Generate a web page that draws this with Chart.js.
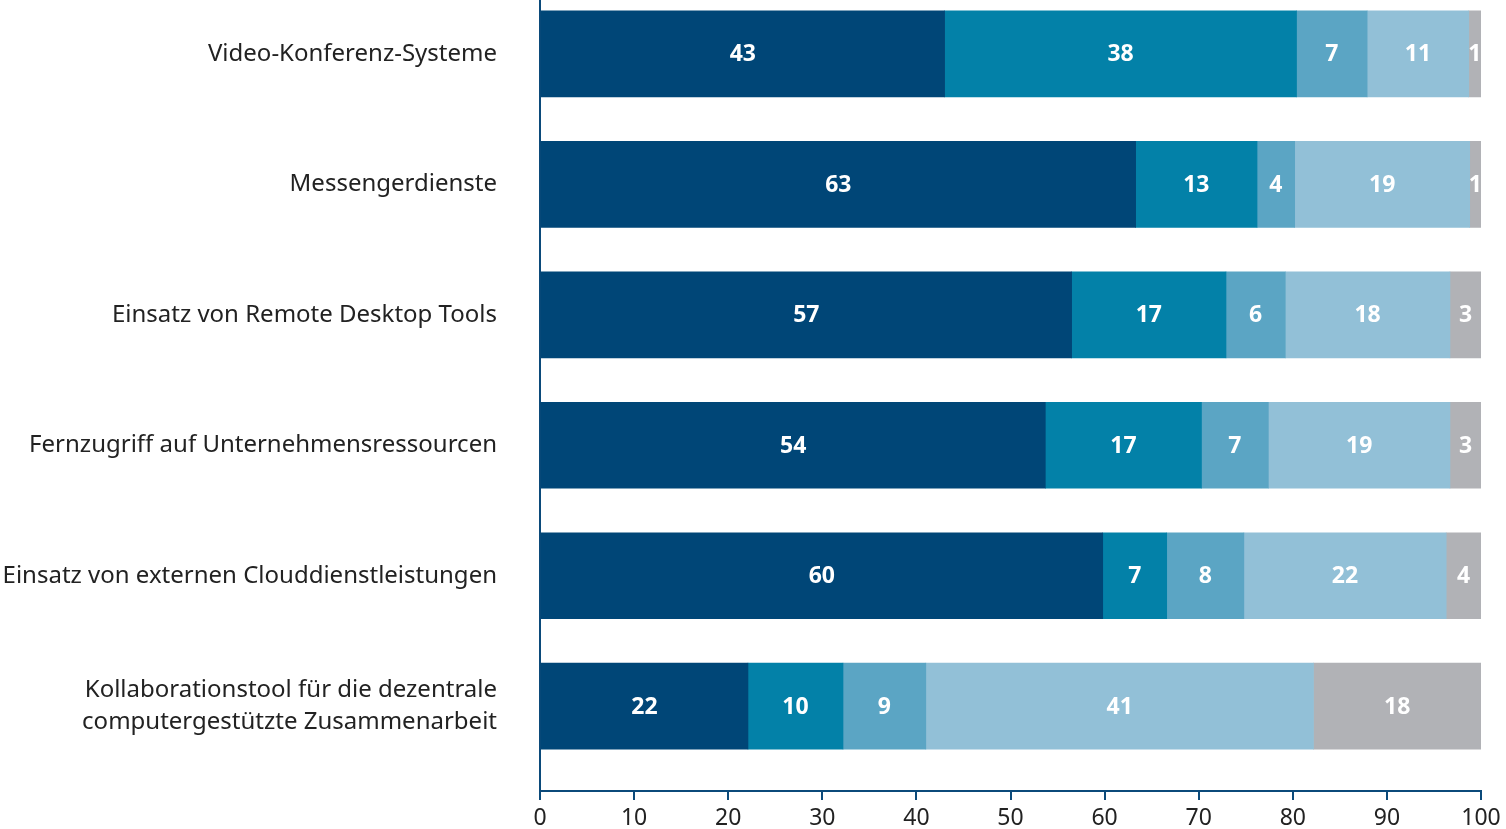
<!DOCTYPE html>
<html lang="de">
<head>
<meta charset="utf-8">
<script src="https://cdn.jsdelivr.net/npm/chart.js@4/dist/chart.umd.min.js"></script>
<style>
  html, body { margin: 0; padding: 0; background: #ffffff; overflow: hidden; width: 1506px; height: 829px; }
  #wrap { position: absolute; left: 0; top: -12px; width: 1506px; height: 841px; }
</style>
</head>
<body>
<div id="wrap"><canvas id="c" width="1506" height="841"></canvas></div>
<script>
// Categories (top to bottom)
const categories = [
  'Video-Konferenz-Systeme',
  'Messengerdienste',
  'Einsatz von Remote Desktop Tools',
  'Fernzugriff auf Unternehmensressourcen',
  'Einsatz von externen Clouddienstleistungen',
  ['Kollaborationstool für die dezentrale', 'computergestützte Zusammenarbeit']
];

// Segment lengths (percent)
const series1 = [43.0, 63.3, 56.5, 53.7, 59.8, 22.1];
const series2 = [37.4, 12.9, 16.4, 16.6,  6.8, 10.1];
const series3 = [ 7.5,  4.0,  6.3,  7.1,  8.2,  8.8];
const series4 = [10.8, 18.6, 17.5, 19.3, 21.5, 41.2];
const series5 = [ 1.3,  1.2,  3.3,  3.3,  3.7, 17.8];

// Numbers printed inside the segments
const printed1 = [43, 63, 57, 54, 60, 22];
const printed2 = [38, 13, 17, 17,  7, 10];
const printed3 = [ 7,  4,  6,  7,  8,  9];
const printed4 = [11, 19, 18, 19, 22, 41];
const printed5 = [ 1,  1,  3,  3,  4, 18];

// X axis ticks
const xTicks = [0, 10, 20, 30, 40, 50, 60, 70, 80, 90, 100];

const colors = ['#004677', '#0381a8', '#5ba5c4', '#92c0d7', '#b1b2b6'];
const axisColor = '#0b4a7a';
const textColor = '#222222';
const FONT = "'Noto Sans', 'Open Sans', sans-serif";

const printedAll = [printed1, printed2, printed3, printed4, printed5];

const segmentLabels = {
  id: 'segmentLabels',
  afterDatasetsDraw(chart) {
    const ctx = chart.ctx;
    ctx.save();
    ctx.fillStyle = '#ffffff';
    ctx.font = "bold 23px " + FONT;
    ctx.textAlign = 'center';
    ctx.textBaseline = 'middle';
    chart.data.datasets.forEach((ds, di) => {
      const meta = chart.getDatasetMeta(di);
      meta.data.forEach((el, i) => {
        const cx = (el.x + el.base) / 2;
        ctx.fillText(String(printedAll[di][i]), cx, el.y + 1);
      });
    });
    ctx.restore();
  }
};

const datasets = [series1, series2, series3, series4, series5].map((s, k) => ({
  label: 'Serie ' + (k + 1),
  data: s.map((v, i) => ({ x: v, y: i })),
  backgroundColor: colors[k],
  borderWidth: 0,
  barThickness: 86
}));

new Chart(document.getElementById('c'), {
  type: 'bar',
  data: { datasets },
  plugins: [segmentLabels],
  options: {
    indexAxis: 'y',
    responsive: false,
    animation: false,
    layout: { padding: { top: 0, right: 25, bottom: 0, left: 0 } },
    plugins: { legend: { display: false }, tooltip: { enabled: false } },
    scales: {
      x: {
        type: 'linear',
        stacked: true,
        min: 0,
        max: 100,
        afterBuildTicks(scale) { scale.ticks = xTicks.map(v => ({ value: v })); },
        afterFit(scale) { scale.height = 38; },
        grid: { drawOnChartArea: false, drawTicks: true, tickLength: 9, color: axisColor, lineWidth: 2 },
        border: { display: true, color: axisColor, width: 2 },
        ticks: { color: textColor, font: { family: FONT, size: 23 }, padding: 5, maxRotation: 0 }
      },
      y: {
        type: 'linear',
        stacked: true,
        reverse: true,
        offset: false,
        min: -0.505,
        max: 5.65,
        afterBuildTicks(scale) { scale.ticks = categories.map((c, i) => ({ value: i })); },
        afterFit(scale) { scale.width = 540; scale.paddingTop = 0; scale.paddingBottom = 0; },
        grid: { display: false, drawTicks: false, offset: false },
        border: { display: true, color: axisColor, width: 2 },
        ticks: {
          color: textColor,
          font: { family: FONT, size: 24, lineHeight: 1.33 },
          padding: 43,
          callback: (v) => categories[v]
        }
      }
    }
  }
});
</script>
</body>
</html>
